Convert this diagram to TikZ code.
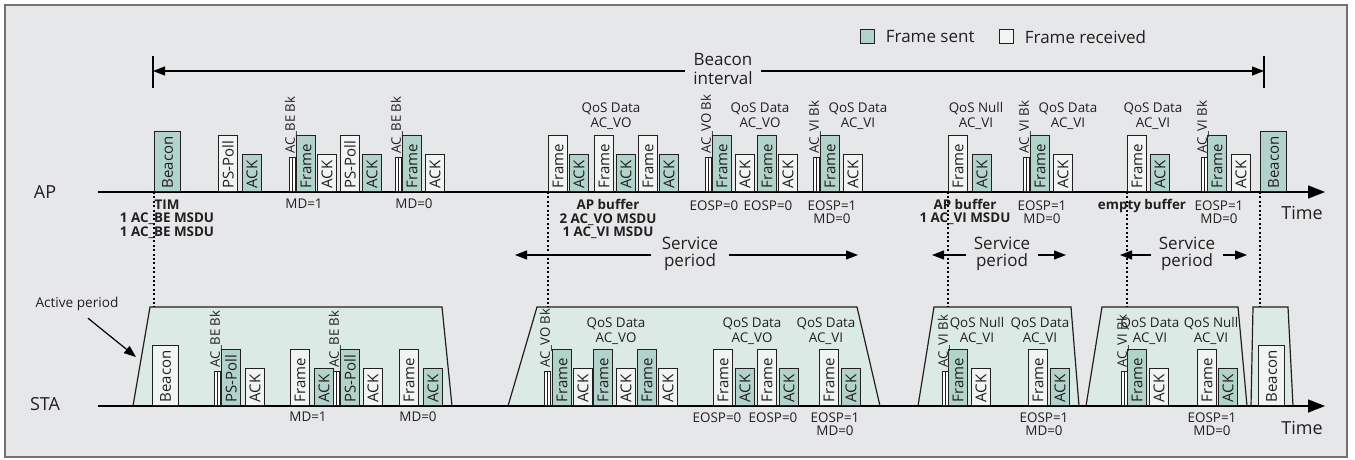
\documentclass[tikz,border=0pt]{standalone}
\usepackage{fontspec}
\setmainfont{Open Sans}
\usetikzlibrary{arrows.meta,positioning}

\definecolor{panelbg}{RGB}{230,231,233}
\definecolor{panelrule}{RGB}{115,115,115}
\definecolor{sentfill}{RGB}{178,211,202}
\definecolor{rcvdfill}{RGB}{240,245,243}
\definecolor{activefill}{RGB}{219,234,229}
\definecolor{ink}{RGB}{35,31,32}

\newcommand{\fsz}[2]{\fontsize{#1}{#2}\selectfont}

\begin{document}
\begin{tikzpicture}[
    x=0.5pt, y=-0.5pt,
    every node/.style={text=ink, inner sep=0pt},
    pkt/.style={draw=ink, line width=0.5pt, rotate=90, anchor=north west,
        inner xsep=1.6pt, inner ysep=0pt, minimum height=9.5pt,
        align=left, font=\fsz{7.5}{8}},
    sent/.style={pkt, fill=sentfill},
    rcvd/.style={pkt, fill=rcvdfill},
    hi/.style={text width=24.8pt},
    lo/.style={text width=15.3pt},
    bcn/.style={text width=26.8pt, minimum height=13pt},
    bkoff/.style={draw=ink, fill=white, line width=0.4pt, anchor=south west,
        minimum width=3pt, minimum height=17pt,
        path picture={\draw[ink, line width=0.4pt] (path picture bounding box.north) -- (path picture bounding box.south);}},
    bklbl/.style={rotate=90, anchor=base west, font=\fsz{6.6}{6.6}},
    note/.style={align=center, font=\fsz{6.7}{6.6}},
    bnote/.style={align=center, font=\fsz{6.7}{6.7}\bfseries},
    qos/.style={align=center, font=\fsz{6.7}{7.6}},
    lbl/.style={align=center, font=\fsz{8.5}{9.2}},
    axis/.style={line width=0.7pt, -{Triangle[length=8.5pt,width=6.5pt]}},
    span/.style={line width=0.6pt, -{Triangle[length=6pt,width=4.5pt]}},
    guide/.style={line width=0.6pt, dash pattern=on 1pt off 1.2pt},
    active/.style={draw=ink, fill=activefill, line width=0.6pt},
]

\useasboundingbox (0,0) rectangle (1355,460);
\draw[panelrule, fill=panelbg, line width=0.8pt] (5,5) rectangle (1347,457);

% Legend
\node[draw=ink, fill=sentfill, minimum size=7pt, line width=0.5pt] (lgs) at (867,37) {};
\node[lbl, right=5.5pt of lgs] (lgst) {Frame sent};
\node[draw=ink, fill=rcvdfill, minimum size=7pt, line width=0.5pt] (lgr) at (1006,37) {};
\node[lbl, right=5.5pt of lgr] (lgrt) {Frame received};

% Beacon interval
\coordinate (bil) at (153,71);
\coordinate (bir) at (1264,71);
\node[lbl, inner xsep=4pt, font=\fsz{8.5}{9.5}] (bi) at (723,69) {Beacon\\interval};
\draw[span] (bi.west |- bil) -- (bil);
\draw[span] (bi.east |- bir) -- (bir);
\draw[line width=0.6pt] (153,56) -- (153,88) (1264,56) -- (1264,88);

% Active periods of the station
\coordinate (acttop) at (0,307);
\draw[active] (133,406) -- (150,307) -- (442,307) -- (452,406);
\draw[active] (508,406) -- (537,307) -- (857,307) -- (880,406);
\draw[active] (918,406) -- (934,307) -- (1071,307) -- (1079,406);
\draw[active] (1086,406) -- (1102,307) -- (1238,307) -- (1247,406);
\draw[active] (1251,406) -- (1253,307) -- (1288,307) -- (1293,406);

\node[font=\fsz{6.8}{7}] (actl) at (77,304) {Active period};
\coordinate (actp) at (136,357);
\draw[span] ([xshift=5.5pt,yshift=-3.5pt]actl.south) -- (actp);

% Time lines
\node[font=\fsz{9}{9}] (ap) at (45,192) {AP};
\node[font=\fsz{9}{9}] (sta) at (45,404) {STA};
\coordinate (apin) at (98,192);
\coordinate (apout) at (1325,192);
\coordinate (stain) at (98,406);
\coordinate (staout) at (1325,406);
\draw[axis] (apin) -- (apout);
\draw[axis] (stain) -- (staout);
\node[font=\fsz{9}{9}] (aptime) at (1302,213) {Time};
\node[font=\fsz{9}{9}] (statime) at (1302,428) {Time};

% Frames on the AP line
\foreach \nm/\px/\kd/\st/\tx in {
    a1/154/bcn/sent/Beacon, a2/218/hi/rcvd/PS-Poll, a3/242/lo/sent/ACK,
    a4/296/hi/sent/Frame, a5/317/lo/rcvd/ACK, a6/340/hi/rcvd/PS-Poll,
    a7/362/lo/sent/ACK, a8/402/hi/sent/Frame, a9/425/lo/rcvd/ACK,
    a10/548/hi/rcvd/Frame, a11/569/lo/sent/ACK, a12/594/hi/rcvd/Frame,
    a13/616/lo/sent/ACK, a14/638/hi/rcvd/Frame, a15/659/lo/sent/ACK,
    a16/712/hi/sent/Frame, a17/735/lo/rcvd/ACK, a18/757/hi/sent/Frame,
    a19/778/lo/rcvd/ACK, a20/820/hi/sent/Frame, a21/843/lo/rcvd/ACK,
    a22/948/hi/rcvd/Frame, a23/972/lo/sent/ACK, a24/1030/hi/sent/Frame,
    a25/1053/lo/rcvd/ACK, a26/1127/hi/rcvd/Frame, a27/1150/lo/sent/ACK,
    a28/1207/hi/sent/Frame, a29/1231/lo/rcvd/ACK, a30/1260/bcn/sent/Beacon} {
    \node[\st, \kd] (\nm) at (\px,192) {\tx};
}

% Frames on the STA line
\foreach \nm/\px/\kd/\st/\tx in {
    s1/152/bcn/rcvd/Beacon, s2/221/hi/sent/PS-Poll, s3/245/lo/rcvd/ACK,
    s4/290/hi/rcvd/Frame, s5/314/lo/sent/ACK, s6/340/hi/sent/PS-Poll,
    s7/363/lo/rcvd/ACK, s8/399/hi/rcvd/Frame, s9/423/lo/sent/ACK,
    s10/552/hi/sent/Frame, s11/573/lo/rcvd/ACK, s12/593/hi/sent/Frame,
    s13/616/lo/rcvd/ACK, s14/637/hi/sent/Frame, s15/658/lo/rcvd/ACK,
    s16/713/hi/rcvd/Frame, s17/735/lo/sent/ACK, s18/757/hi/rcvd/Frame,
    s19/779/lo/sent/ACK, s20/819/hi/rcvd/Frame, s21/841/lo/sent/ACK,
    s22/948/hi/sent/Frame, s23/971/lo/rcvd/ACK, s24/1028/hi/rcvd/Frame,
    s25/1050/lo/sent/ACK, s26/1127/hi/sent/Frame, s27/1149/lo/rcvd/ACK,
    s28/1197/hi/rcvd/Frame, s29/1218/lo/sent/ACK, s30/1258/bcn/rcvd/Beacon} {
    \node[\st, \kd] (\nm) at (\px,406) {\tx};
}

% Backoff slots and their access categories
\foreach \nm/\px/\py/\tx in {
    ab1/289/192/AC\_BE Bk, ab2/395/192/AC\_BE Bk, ab3/705/192/AC\_VO Bk,
    ab4/813/192/AC\_VI Bk, ab5/1023/192/AC\_VI Bk, ab6/1201/192/AC\_VI Bk,
    sb1/214/406/AC\_BE Bk, sb2/333/406/AC\_BE Bk, sb3/544/406/AC\_VO Bk,
    sb4/942/406/AC\_VI Bk, sb5/1121/406/AC\_VI Bk} {
    \node[bkoff] (\nm) at (\px,\py) {};
    \node[bklbl] (\nm lbl) at ([xshift=-0.5pt,yshift=1.5pt]\nm.north east) {\tx};
}

% Wake-up instants
\foreach \nm in {a1, a10, a22, a26, a30}
    \draw[guide] (\nm.north west) -- (\nm.north west |- acttop);

% Frame types
\foreach \nm/\px/\py/\tx in {
    qa1/611/116/QoS Data\\AC\_VO, qa2/760/116/QoS Data\\AC\_VO,
    qa3/858/116/QoS Data\\AC\_VI, qa4/976/116/QoS Null\\AC\_VI,
    qa5/1068/116/QoS Data\\AC\_VI, qa6/1153/116/QoS Data\\AC\_VI,
    qs1/616/331/QoS Data\\AC\_VO, qs2/752/331/QoS Data\\AC\_VO,
    qs3/826/331/QoS Data\\AC\_VI, qs4/977/331/QoS Null\\AC\_VI,
    qs5/1040/331/QoS Data\\AC\_VI, qs6/1150/331/QoS Data\\AC\_VI,
    qs7/1211/331/QoS Null\\AC\_VI} {
    \node[qos] (\nm) at (\px,\py) {\tx};
}

% Header bits
\foreach \nm/\px/\py/\tx in {
    ma1/304/204/MD=1, ma2/414/204/MD=0, ea1/714/206/EOSP=0,
    ea2/768/206/EOSP=0, ea3/832/212/EOSP=1\\MD=0,
    ea4/1042/212/EOSP=1\\MD=0, ea5/1219/212/EOSP=1\\MD=0,
    ms1/308/417/MD=1, ms2/418/417/MD=0, es1/717/418/EOSP=0,
    es2/773/418/EOSP=0, es3/835/424/EOSP=1\\MD=0,
    es4/1044/424/EOSP=1\\MD=0, es5/1212/424/EOSP=1\\MD=0} {
    \node[note] (\nm) at (\px,\py) {\tx};
}

% Buffer state at the AP
\node[bnote] (buf1) at (167,219) {TIM\\1 AC\_BE MSDU\\1 AC\_BE MSDU};
\node[bnote] (buf2) at (608,219) {AP buffer\\2 AC\_VO MSDU\\1 AC\_VI MSDU};
\node[bnote] (buf3) at (965,212) {AP buffer\\1 AC\_VI MSDU};
\node[bnote] (buf4) at (1142,206) {empty buffer};

% Service periods
\foreach \nm/\px/\gap/\lx/\rx in {sp1/690/5/515/858, sp2/1002/3.5/932/1066, sp3/1187/3.5/1120/1247} {
    \node[lbl, inner xsep=\gap pt, font=\fsz{8.5}{8.2}] (\nm) at (\px,254) {Service\\period};
    \coordinate (\nm l) at (\lx,255);
    \coordinate (\nm r) at (\rx,255);
    \draw[span] (\nm.west |- \nm l) -- (\nm l);
    \draw[span] (\nm.east |- \nm r) -- (\nm r);
}

\end{tikzpicture}
\end{document}
